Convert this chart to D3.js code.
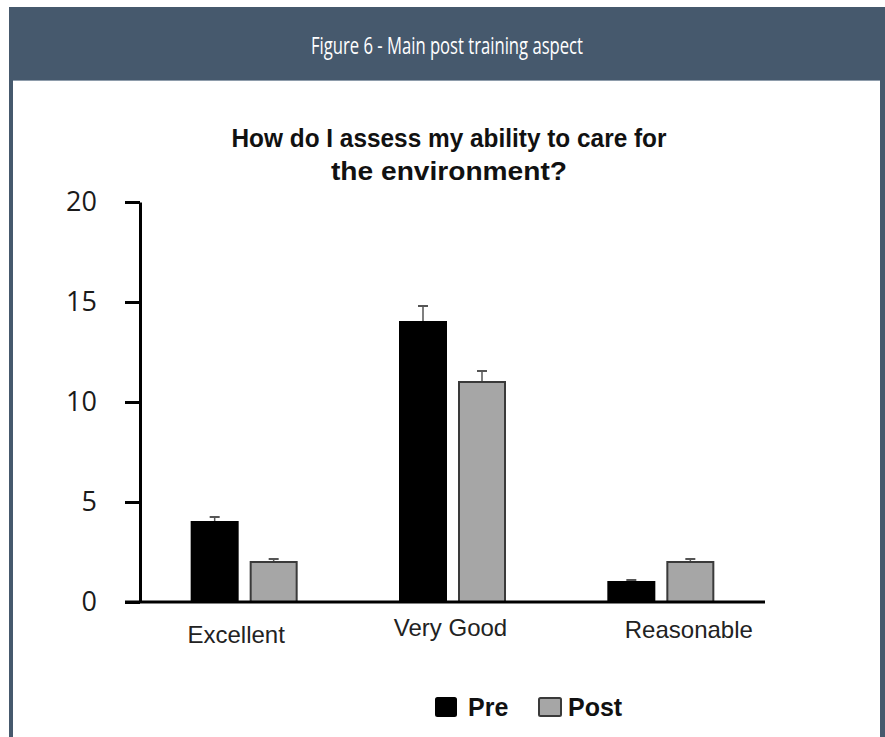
<!DOCTYPE html>
<html>
<head>
<meta charset="utf-8">
<script src="https://cdn.jsdelivr.net/npm/d3@7"></script>
<style>
  html, body { margin: 0; padding: 0; background: #ffffff; }
  svg { display: block; }
</style>
</head>
<body>
<svg id="chart" width="885" height="737"></svg>
<script>
// Survey responses: self-assessed ability to care for the environment
const categories = ["Excellent", "Very Good", "Reasonable"];
const seriesNames = ["Pre", "Post"];
const preValues = [4, 14, 1];
const postValues = [2, 11, 2];
const preErrors = [0.25, 0.8, 0.1];
const postErrors = [0.15, 0.55, 0.15];
const yTickValues = [0, 5, 10, 15, 20];

const headerText = "Figure 6 - Main post training aspect";
const titleLines = ["How do I assess my ability to care for", "the environment?"];

// Layout
const W = 885, H = 737;
const frameColor = "#46596d";
const plot = { left: 140, right: 765, top: 202, bottom: 602 };
const barWidth = 48, barGap = 11;
const seriesFill = { Pre: "#000000", Post: "#a6a6a6" };
const seriesStroke = { Pre: "#000000", Post: "#3a3a3a" };
// title line widths
const titleWidths = [435, 236];
// horizontal nudges and baselines of the category labels
const labelDx = [-8, -2, 28];
const labelY = [643, 636, 638];

const svg = d3.select("#chart");

// Frame: header band and side borders
svg.append("rect").attr("x", 9).attr("y", 7).attr("width", W - 9).attr("height", H - 7)
  .attr("fill", frameColor);
svg.append("rect").attr("x", 13).attr("y", 80).attr("width", 867).attr("height", H - 80)
  .attr("fill", "#ffffff");
svg.append("line").attr("x1", 13).attr("x2", 880).attr("y1", 80.5).attr("y2", 80.5)
  .attr("stroke", "#8e9cab").attr("stroke-width", 1);

svg.append("text")
  .attr("x", 447).attr("y", 54)
  .attr("text-anchor", "middle")
  .attr("fill", "#ffffff")
  .attr("font-family", "'Open Sans', sans-serif")
  .attr("font-size", 24)
  .attr("textLength", 272)
  .attr("lengthAdjust", "spacingAndGlyphs")
  .text(headerText);

// Chart title
const title = svg.append("text")
  .attr("text-anchor", "middle")
  .attr("font-family", "'Liberation Sans', Arial, sans-serif")
  .attr("font-weight", "bold")
  .attr("font-size", 26)
  .attr("fill", "#111111");
titleLines.forEach((line, i) => {
  title.append("tspan").attr("x", 449).attr("y", 147 + i * 33)
    .attr("textLength", titleWidths[i]).attr("lengthAdjust", "spacingAndGlyphs")
    .text(line);
});

// Scales
const x = d3.scaleBand().domain(categories).range([plot.left, plot.right]).padding(0);
const y = d3.scaleLinear().domain([0, 20]).range([plot.bottom, plot.top]);
const xs = d3.scaleOrdinal().domain(seriesNames)
  .range([-(barGap / 2 + barWidth), barGap / 2]);

const rows = categories.map((c, i) => ({
  category: c,
  values: [
    { series: "Pre", value: preValues[i], err: preErrors[i] },
    { series: "Post", value: postValues[i], err: postErrors[i] }
  ]
}));

// Bars
const groups = svg.append("g").selectAll("g").data(rows).join("g")
  .attr("transform", d => `translate(${x(d.category) + x.bandwidth() / 2},0)`);

// Error bars (upper whisker only)
groups.selectAll("g.err").data(d => d.values).join("g").attr("class", "err")
  .each(function (d) {
    const g = d3.select(this);
    const cx = xs(d.series) + barWidth / 2;
    g.append("line").attr("x1", cx).attr("x2", cx)
      .attr("y1", y(d.value)).attr("y2", y(d.value + d.err))
      .attr("stroke", "#555555").attr("stroke-width", 1.5);
    g.append("line").attr("x1", cx - 5).attr("x2", cx + 5)
      .attr("y1", y(d.value + d.err)).attr("y2", y(d.value + d.err))
      .attr("stroke", "#555555").attr("stroke-width", 2);
  });

groups.selectAll("rect").data(d => d.values).join("rect")
  .attr("x", d => xs(d.series) + 1)
  .attr("y", d => y(d.value))
  .attr("width", barWidth - 2)
  .attr("height", d => y(0) - y(d.value))
  .attr("fill", d => seriesFill[d.series])
  .attr("stroke", d => seriesStroke[d.series])
  .attr("stroke-width", 2);

// Y axis
const yAxis = svg.append("g")
  .attr("transform", `translate(${plot.left},0)`)
  .call(d3.axisLeft(y).tickValues(yTickValues).tickSize(15).tickSizeOuter(0).tickPadding(28));
yAxis.select(".domain").attr("stroke", "#000").attr("stroke-width", 3);
yAxis.selectAll(".tick line").attr("stroke", "#000").attr("stroke-width", 3);
yAxis.selectAll(".tick text")
  .attr("font-family", "'Open Sans', sans-serif")
  .attr("font-size", 27)
  .attr("fill", "#1a1a1a");

// X axis baseline
svg.append("line")
  .attr("x1", plot.left - 15).attr("x2", plot.right)
  .attr("y1", y(0)).attr("y2", y(0))
  .attr("stroke", "#000").attr("stroke-width", 3);

// Category labels
svg.append("g").selectAll("text").data(categories).join("text")
  .attr("x", (d, i) => x(d) + x.bandwidth() / 2 + labelDx[i])
  .attr("y", (d, i) => labelY[i])
  .attr("text-anchor", "middle")
  .attr("font-family", "'Liberation Sans', Arial, sans-serif")
  .attr("font-size", 24)
  .attr("fill", "#222222")
  .text(d => d);

// Legend
const legend = svg.append("g").attr("transform", "translate(435,697)");
const legendItems = legend.selectAll("g").data(seriesNames).join("g")
  .attr("transform", (d, i) => `translate(${i * 103},0)`);
legendItems.append("rect")
  .attr("x", 1).attr("y", 1).attr("width", (d, i) => i === 0 ? 20 : 22).attr("height", 18).attr("rx", 1.5)
  .attr("fill", d => seriesFill[d])
  .attr("stroke", d => seriesStroke[d]).attr("stroke-width", 2);
legendItems.append("text")
  .attr("x", (d, i) => i === 0 ? 33 : 30).attr("y", 19)
  .attr("font-family", "'Liberation Sans', Arial, sans-serif")
  .attr("font-weight", "bold")
  .attr("font-size", 25)
  .attr("fill", "#111111")
  .text(d => d);
</script>
</body>
</html>
